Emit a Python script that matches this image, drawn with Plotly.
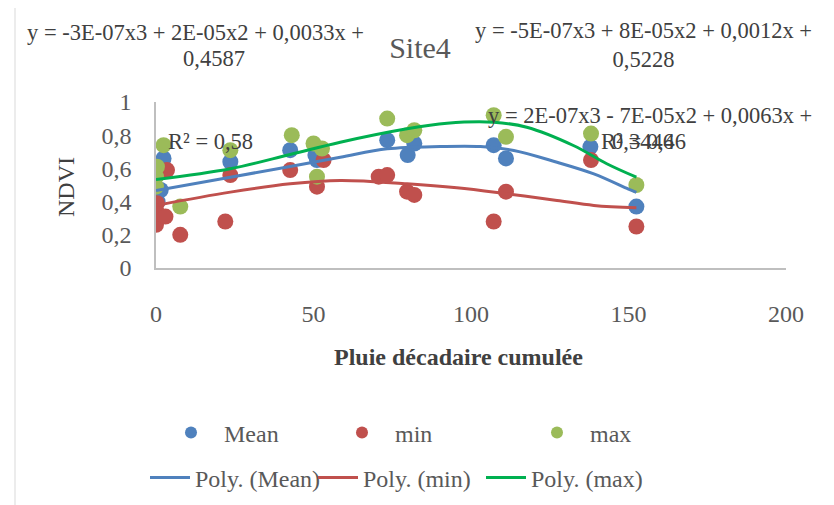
import plotly.graph_objects as go

# ---------------- data ----------------
mean_x = [0, 0.5, 1.5, 0.3, 2.4, 23.6, 42.6, 50.6, 51.1, 73.4, 79.9, 82.0, 107.2, 111.1, 137.9, 152.5]
mean_y = [0.33, 0.40, 0.47, 0.56, 0.66, 0.64, 0.71, 0.68, 0.65, 0.77, 0.68, 0.75, 0.74, 0.66, 0.73, 0.37]

min_x = [0, 0.5, 3.0, 0.3, 3.5, 7.7, 22.0, 23.6, 42.6, 51.1, 53.2, 70.7, 73.4, 79.7, 82.0, 107.2, 111.1, 138.1, 152.5]
min_y = [0.26, 0.33, 0.31, 0.39, 0.59, 0.20, 0.28, 0.56, 0.59, 0.49, 0.65, 0.55, 0.56, 0.46, 0.44, 0.28, 0.46, 0.65, 0.25]

max_x = [0, 0, 0.3, 2.4, 7.7, 23.6, 43.1, 50.0, 51.1, 52.7, 73.4, 79.7, 82.0, 107.2, 111.1, 138.1, 152.5]
max_y = [0.49, 0.55, 0.61, 0.74, 0.37, 0.71, 0.80, 0.75, 0.55, 0.72, 0.90, 0.80, 0.83, 0.92, 0.79, 0.81, 0.50]

# polynomial trend lines as drawn in the reference
fit_mean_x = [0, 23.6, 42.6, 58.5, 73.4, 90.3, 103, 113.6, 127.3, 139, 150, 152.5]
fit_mean_y = [0.467, 0.547, 0.611, 0.667, 0.718, 0.732, 0.732, 0.708, 0.637, 0.567, 0.475, 0.455]

fit_min_x = [0, 23.6, 42.6, 58.5, 79.7, 95.5, 111.3, 127.3, 139, 152.5]
fit_min_y = [0.377, 0.457, 0.507, 0.527, 0.507, 0.483, 0.447, 0.407, 0.377, 0.363]

fit_max_x = [0, 23.6, 42.6, 58.5, 79.7, 92.4, 107.2, 117.7, 132.5, 143.1, 152.5]
fit_max_y = [0.533, 0.598, 0.684, 0.758, 0.839, 0.872, 0.878, 0.848, 0.738, 0.628, 0.547]

x_ticks = [0, 50, 100, 150, 200]
y_ticks = [0, 0.2, 0.4, 0.6, 0.8, 1]

title_text = "Site4"
eq_mean_1 = "y = -3E-07x3 + 2E-05x2 + 0,0033x +"
eq_mean_2 = "0,4587"
eq_max = "y = -5E-07x3 + 8E-05x2 + 0,0012x +<br>0,5228"
eq_min_1 = "y = 2E-07x3 - 7E-05x2 + 0,0063x +"
eq_min_2 = "0,3446"
r2_min = "R² = 0,46"
r2_mean = "R² = 0,58"

# ---------------- styling ----------------
W, H = 834, 505
OFF = 8  # page body margin in the browser
PL, PT, PW, PH = 156 - OFF, 102 - OFF, 630, 166
FONT = "Liberation Serif, Times New Roman, serif"
C_BLUE, C_RED, C_GREEN = "#4F81BD", "#C0504D", "#9BBB59"
C_GREEN_LINE = "#00B050"
TXT = "#404040"
TXT2 = "#595959"


def pxx(px):
    return (px - OFF - PL) / PW


def pxy(py):
    return (PT + PH - (py - OFF)) / PH


fig = go.Figure()
ms = 16
fig.add_trace(go.Scatter(x=mean_x, y=mean_y, mode="markers", name="Mean",
                         marker=dict(color=C_BLUE, size=ms), legend="legend"))
fig.add_trace(go.Scatter(x=min_x, y=min_y, mode="markers", name="min",
                         marker=dict(color=C_RED, size=ms), legend="legend"))
fig.add_trace(go.Scatter(x=max_x, y=max_y, mode="markers", name="max",
                         marker=dict(color=C_GREEN, size=ms), legend="legend3"))
fig.add_trace(go.Scatter(x=fit_mean_x, y=fit_mean_y, mode="lines", name="Poly. (Mean)",
                         line=dict(color=C_BLUE, width=3, shape="spline"), legend="legend2"))
fig.add_trace(go.Scatter(x=fit_min_x, y=fit_min_y, mode="lines", name="Poly. (min)",
                         line=dict(color=C_RED, width=3, shape="spline"), legend="legend2"))
fig.add_trace(go.Scatter(x=fit_max_x, y=fit_max_y, mode="lines", name="Poly. (max)",
                         line=dict(color=C_GREEN_LINE, width=3, shape="spline"), legend="legend2"))

annotations = []


def ann(text, cx, cy, size=22.5, color=TXT, **kw):
    annotations.append(dict(text=text, x=pxx(cx), y=pxy(cy), xref="paper", yref="paper",
                            xanchor="center", yanchor="middle", showarrow=False,
                            font=dict(family=FONT, size=size, color=color), **kw))


ann(eq_mean_1, 195, 32)
ann(eq_mean_2, 214, 58)
ann(eq_max, 643, 45, align="center")
ann(eq_min_1, 650, 115)
ann(eq_min_2, 643, 141)
ann(r2_min, 643, 141)
ann(r2_mean, 210, 141)
# axis titles placed to match the reference
ann("<b>Pluie décadaire cumulée</b>", 458, 357, size=24, color=TXT)
ann("NDVI", 66, 187, size=24, color=TXT, textangle=-90)

legend_common = dict(orientation="h", font=dict(family=FONT, size=24, color=TXT2),
                     bgcolor="rgba(0,0,0,0)", entrywidthmode="pixels",
                     xanchor="left", yanchor="middle")

fig.update_layout(
    width=W, height=H,
    margin=dict(l=PL, r=W - PL - PW, t=PT, b=H - PT - PH, pad=0, autoexpand=False),
    paper_bgcolor="white", plot_bgcolor="white",
    separators=", ",
    font=dict(family=FONT, color=TXT2),
    title=dict(text=title_text, x=(420 - OFF) / W, xanchor="center",
               y=1 - (47 - OFF) / H, yanchor="middle",
               font=dict(family=FONT, size=30, color=TXT2)),
    xaxis=dict(range=[0, 200], tickvals=x_ticks, showgrid=False, zeroline=False,
               showline=True, linecolor="#BFBFBF", linewidth=1.5, ticks="",
               ticklabelstandoff=23,
               tickfont=dict(family=FONT, size=24, color=TXT2)),
    yaxis=dict(range=[0, 1], tickvals=y_ticks, showgrid=False, zeroline=False,
               showline=True, linecolor="#BFBFBF", linewidth=1.5, ticks="",
               ticklabelstandoff=18,
               tickfont=dict(family=FONT, size=24, color=TXT2)),
    legend=dict(x=pxx(158), y=pxy(433), itemsizing="constant", itemwidth=56,
                entrywidth=100, **legend_common),
    legend3=dict(x=pxx(524), y=pxy(433), itemsizing="constant", itemwidth=56,
                 entrywidth=100, **legend_common),
    legend2=dict(x=pxx(145), y=pxy(478), itemsizing="trace", itemwidth=40,
                 entrywidth=113, **legend_common),
    annotations=annotations,
    shapes=[dict(type="rect", xref="paper", yref="paper",
                 x0=pxx(15), x1=pxx(833), y0=pxy(520), y1=pxy(6),
                 line=dict(color="#D9D9D9", width=1), fillcolor="rgba(0,0,0,0)",
                 layer="below")],
)

fig.write_html("out.html")
